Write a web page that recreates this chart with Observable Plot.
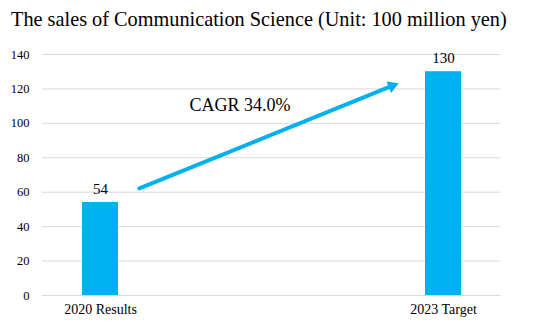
<!DOCTYPE html>
<html>
<head>
<meta charset="utf-8">
<script src="https://cdn.jsdelivr.net/npm/d3@7"></script>
<script src="https://cdn.jsdelivr.net/npm/@observablehq/plot@0.6"></script>
<style>
  body { margin: 0; background: #fff; }
  #wrap { position: relative; width: 547px; height: 325px; font-family: "Liberation Serif", "Times New Roman", serif; }
  #title { position: absolute; left: 11px; top: 0; height: 40px; line-height: 38px; font-size: 20.3px; color: #000; white-space: nowrap; }
  #chart { position: absolute; left: 0; top: 40px; }
</style>
</head>
<body>
<div id="wrap">
  <div id="title">The sales of Communication Science (Unit: 100 million yen)</div>
  <div id="chart"></div>
</div>
<script>
const categories = ["2020 Results", "2023 Target"];
const sales = [54, 130];
const yTicks = [0, 20, 40, 60, 80, 100, 120, 140];
const cagrLabel = "CAGR 34.0%";
const arrowFrom = 53;   // value at 2020 end of the growth arrow line
const arrowTo = 134;    // value at 2023 end of the growth arrow line
const arrowHeadAt = 121.7;
const cagrY = 107;

const data = categories.map((c, i) => ({category: c, value: sales[i]}));
const blue = "#00B0F0";
const font = "'Liberation Serif', 'Times New Roman', serif";

const chart = Plot.plot({
  width: 547,
  height: 285,
  marginTop: 14,
  marginBottom: 30,
  marginLeft: 42,
  marginRight: 47,
  style: {fontFamily: font, fontSize: "14px", color: "#000", background: "#fff"},
  x: {domain: categories, paddingInner: 0.8953, paddingOuter: 0.1134},
  y: {domain: [0, 140]},
  marks: [
    Plot.gridY(yTicks, {stroke: "#D9D9D9", strokeOpacity: 1, strokeWidth: 1}),
    Plot.axisY(yTicks, {label: null, tickSize: 0, tickPadding: 13, fontSize: 12.5}),
    Plot.axisX({label: null, tickSize: 0, tickPadding: 9, fontSize: 14}),
    Plot.barY(data, {x: "category", y: "value", fill: blue}),
    Plot.text(data, {x: "category", y: "value", text: d => String(d.value), lineAnchor: "bottom", dy: -9, fontSize: 15}),
    Plot.arrow([{a: categories[0], b: categories[1], y1: arrowFrom, y2: arrowTo}], {
      x1: "a", x2: "b", y1: "y1", y2: "y2",
      stroke: blue, strokeWidth: 4, headLength: 0,
      insetStart: 42, insetEnd: 55
    }),
    Plot.dot([{c: categories[1], v: arrowHeadAt}], {
      x: "c", y: "v", dx: -51.4, symbol: "triangle", r: 4.6, rotate: 68, fill: blue, stroke: "none"
    }),
    Plot.text([cagrLabel], {x: () => categories[0], y: () => cagrY, text: d => d, dx: 89, textAnchor: "start", lineAnchor: "bottom", fontSize: 18})
  ]
});
document.getElementById("chart").appendChild(chart);
</script>
</body>
</html>
